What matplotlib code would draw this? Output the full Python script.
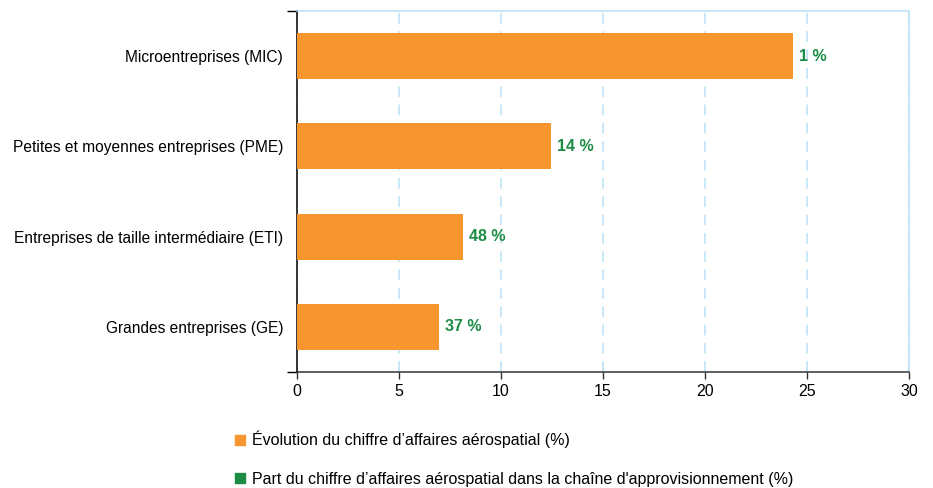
import matplotlib
matplotlib.use("Agg")
import matplotlib.pyplot as plt
from matplotlib.lines import Line2D
from matplotlib import font_manager

categories = ["Microentreprises (MIC)",
              "Petites et moyennes entreprises (PME)",
              "Entreprises de taille intermédiaire (ETI)",
              "Grandes entreprises (GE)"]
evolution = [24.3, 12.45, 8.15, 6.95]
part_chaine = [1, 14, 48, 37]
xticks = [0, 5, 10, 15, 20, 25, 30]
legend_labels = ["Évolution du chiffre d’affaires aérospatial (%)",
                 "Part du chiffre d’affaires aérospatial dans la chaîne d'approvisionnement (%)"]

names = {f.name for f in font_manager.fontManager.ttflist}
fam = ["Liberation Sans Narrow", "Liberation Sans", "DejaVu Sans"]
fam = [f for f in fam if f in names] or ["DejaVu Sans"]
plt.rcParams["font.family"] = fam

ORANGE = "#F7962F"
GREEN = "#1C8C45"
GRID = "#B9E0F4"

fig = plt.figure(figsize=(9.33, 4.88), dpi=100)
ax = fig.add_axes([297/933, 1-372/488, (909-297)/933, (372-11)/488])

ypos = list(range(len(categories)))
ax.barh(ypos, evolution, height=0.51, color=ORANGE, zorder=3)
for y, v, p in zip(ypos, evolution, part_chaine):
    ax.text(v + 0.3, y, f"{p} %", color=GREEN, fontweight="bold",
            fontsize=11.5, va="center", ha="left", zorder=4)

ax.set_xlim(0, 30)
ax.set_ylim(3.5, -0.5)
ax.set_yticks(ypos)
ax.set_yticklabels(categories, fontsize=11.2)
ax.tick_params(axis="y", length=0, pad=10)
ax.set_yticks([-0.5, 3.5], minor=True)
ax.tick_params(axis="y", which="minor", length=7, width=1, color="black")
ax.set_xticks(xticks)
ax.set_xticklabels([str(t) for t in xticks], fontsize=11.5)
ax.tick_params(axis="x", length=5, width=1, color="#333333", pad=4)

ax.grid(axis="x", color=GRID, linestyle=(0, (7, 5)), linewidth=1.1, zorder=0)
ax.grid(axis="y", visible=False)
ax.spines["left"].set_color("black")
ax.spines["bottom"].set_color("#333333")
ax.spines["top"].set_color(GRID)
ax.spines["right"].set_color(GRID)
for s in ax.spines.values():
    s.set_linewidth(1.1)

handles = [Line2D([], [], marker="s", linestyle="none", markersize=7,
                  markerfacecolor=c, markeredgecolor=c) for c in (ORANGE, GREEN)]
fig.legend(handles, legend_labels, loc="upper left",
           bbox_to_anchor=(235/933, 1-431/488), frameon=False,
           fontsize=11.5, handlelength=0.6, handletextpad=0.45,
           labelspacing=1.45, borderpad=0, borderaxespad=0)

fig.savefig("out.png", dpi=100)
